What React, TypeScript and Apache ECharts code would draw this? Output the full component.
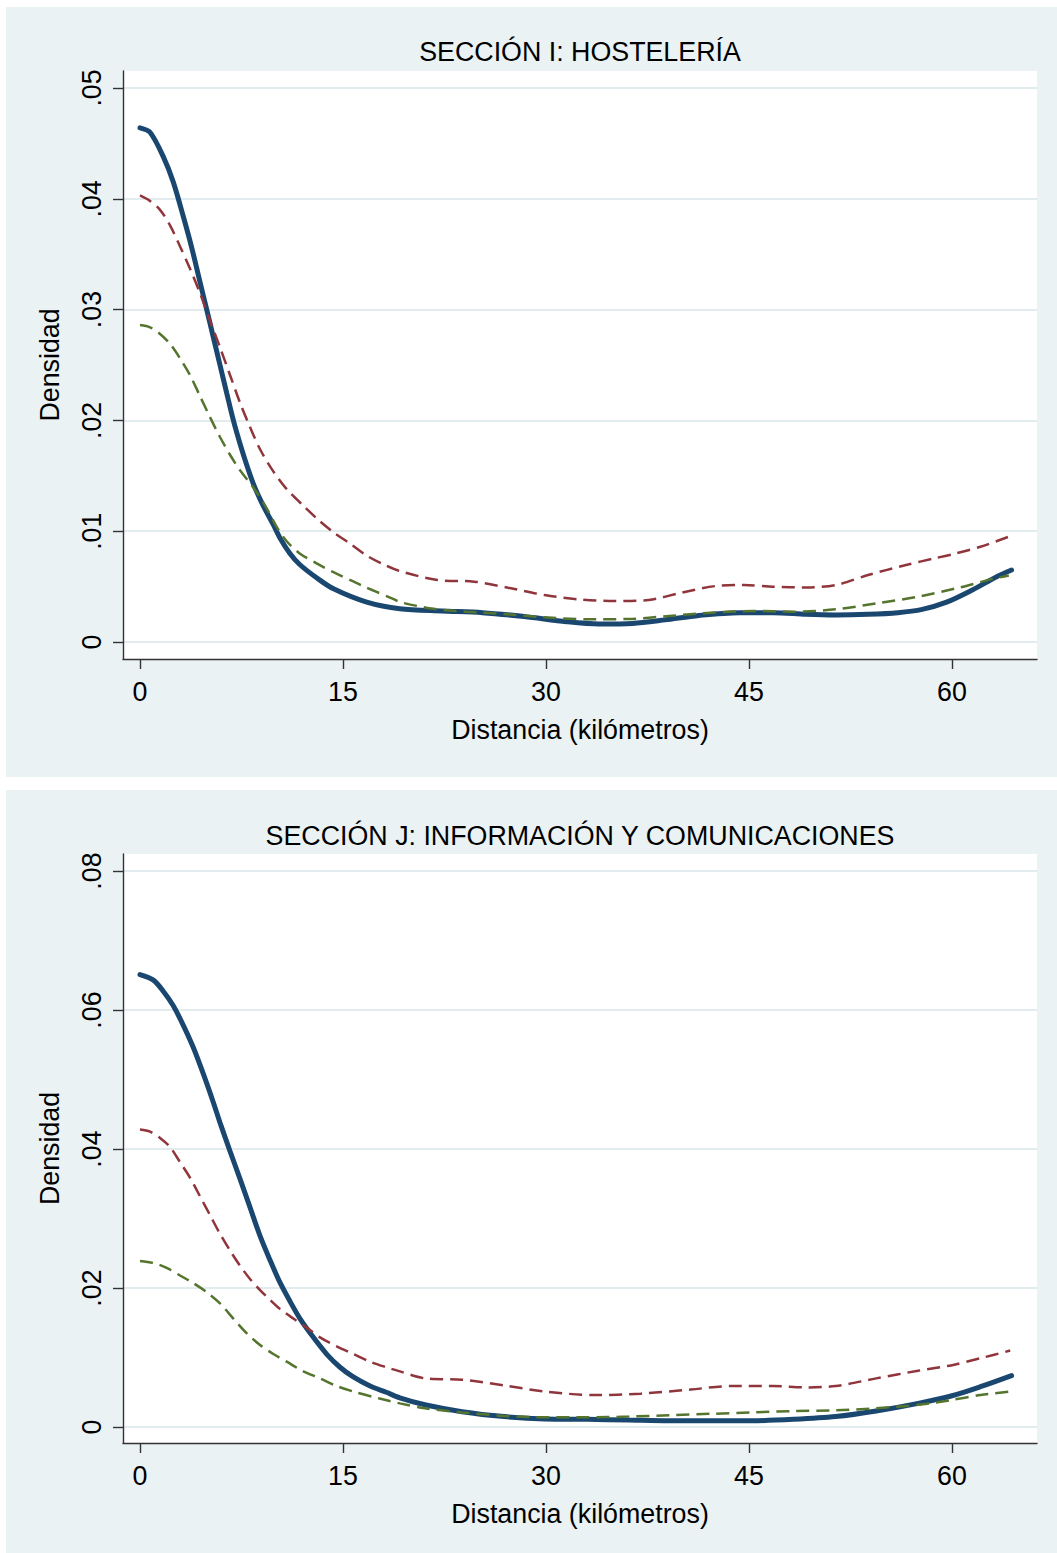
import React, { useEffect, useRef } from "react";
import * as echarts from "echarts";

// ---------- data ----------
const panelTitles = ["SECCIÓN I: HOSTELERÍA", "SECCIÓN J: INFORMACIÓN Y COMUNICACIONES"];
const xAxisTitle = "Distancia (kilómetros)";
const yAxisTitle = "Densidad";
const xTicks = [0, 15, 30, 45, 60];
const yTicksI = [0, 0.01, 0.02, 0.03, 0.04, 0.05];
const yTicksJ = [0, 0.02, 0.04, 0.06, 0.08];

// Panel I (Hostelería)
const iSolidD = [0, 0.74, 1.72, 2.46, 3.2, 3.82, 4.43, 4.93, 5.42, 5.91, 6.4, 6.9, 7.39, 7.88, 8.37, 8.87, 9.36, 9.85, 10.34, 11.08, 11.8, 13.05, 14.3, 16.75, 19.2, 22.3, 25.3, 28.4, 31.5, 33.9, 36.4, 38.8, 41.3, 44.3, 46.8, 49.2, 51.4, 53.8, 56.0, 57.8, 59.6, 61.5, 63.3, 64.4];
const iSolidV = [0.0464, 0.046, 0.0438, 0.0415, 0.0384, 0.0356, 0.0325, 0.03, 0.0275, 0.025, 0.0225, 0.02, 0.0179, 0.016, 0.0143, 0.0129, 0.0117, 0.0106, 0.0094, 0.008, 0.007, 0.0058, 0.0048, 0.0036, 0.003, 0.0028, 0.00265, 0.0023, 0.00184, 0.00163, 0.00168, 0.002, 0.0024, 0.00265, 0.00265, 0.0025, 0.00244, 0.0025, 0.00265, 0.00295, 0.0036, 0.0047, 0.0059, 0.0065];

const iRedD = [0, 0.74, 1.48, 2.22, 2.96, 3.69, 4.43, 5.17, 5.91, 6.65, 7.39, 8.13, 8.87, 9.85, 10.84, 12.07, 13.2, 14.3, 15.5, 16.75, 18.0, 19.2, 21.97, 24.7, 27.2, 29.9, 32.4, 35.1, 37.6, 40.0, 42.5, 44.6, 46.8, 49.2, 51.4, 53.8, 56.6, 58.7, 60.3, 62.1, 64.4];
const iRedV = [0.0403, 0.0398, 0.039, 0.0376, 0.0357, 0.0337, 0.0315, 0.029, 0.0266, 0.0241, 0.0216, 0.0194, 0.0174, 0.0154, 0.0138, 0.0123, 0.011, 0.0099, 0.0089, 0.0078, 0.007, 0.0064, 0.0056, 0.00545, 0.0049, 0.00424, 0.00385, 0.0037, 0.0038, 0.00445, 0.00505, 0.00514, 0.005, 0.00493, 0.00514, 0.00605, 0.00695, 0.00755, 0.008, 0.0086, 0.0096];

const iGreenD = [0, 0.74, 1.48, 2.22, 2.96, 3.69, 4.43, 5.17, 5.91, 6.65, 7.39, 8.4, 9.3, 10.1, 10.84, 11.8, 13.05, 14.3, 15.8, 16.75, 18.7, 19.21, 21.7, 24.1, 26.9, 29.9, 33.0, 36.1, 39.1, 42.2, 45.3, 48.3, 51.4, 54.4, 57.5, 60.6, 63.0, 64.2];
const iGreenV = [0.0286, 0.0284, 0.0278, 0.0269, 0.0256, 0.0241, 0.0222, 0.0203, 0.0185, 0.0169, 0.0155, 0.0139, 0.0122, 0.0104, 0.0091, 0.008, 0.0071, 0.0063, 0.00545, 0.0049, 0.0039, 0.0036, 0.003, 0.00274, 0.00253, 0.00223, 0.00205, 0.00208, 0.00235, 0.00265, 0.0028, 0.00274, 0.00295, 0.00349, 0.00409, 0.00493, 0.0057, 0.006];

// Panel J (Información y comunicaciones)
const jSolidD = [0, 0.99, 1.72, 2.46, 3.2, 3.94, 4.68, 5.42, 5.91, 6.65, 7.39, 8.13, 8.87, 9.61, 10.34, 11.08, 11.82, 12.81, 13.79, 14.78, 15.76, 17.0, 18.2, 19.2, 21.05, 23.8, 26.9, 29.9, 33.0, 36.1, 39.1, 42.2, 45.3, 48.3, 51.4, 54.4, 57.5, 60.0, 62.1, 64.4];
const jSolidV = [0.0651, 0.0643, 0.0627, 0.0606, 0.0578, 0.0546, 0.0508, 0.0467, 0.0438, 0.0397, 0.0357, 0.0316, 0.0275, 0.024, 0.0208, 0.0181, 0.0156, 0.0129, 0.0105, 0.0086, 0.0072, 0.0059, 0.005, 0.0042, 0.0032, 0.0022, 0.0015, 0.00115, 0.0011, 0.001, 0.0009, 0.0009, 0.0009, 0.0011, 0.0015, 0.0023, 0.0034, 0.0045, 0.0058, 0.0074];

const jRedD = [0, 0.74, 1.48, 2.22, 2.96, 3.69, 4.43, 5.17, 5.91, 6.65, 7.39, 8.13, 8.87, 9.61, 10.34, 11.33, 12.32, 13.3, 14.53, 15.76, 17.0, 18.2, 19.2, 21.05, 23.8, 26.9, 29.9, 33.6, 37.0, 40.7, 43.7, 46.8, 49.2, 51.4, 54.4, 57.5, 60.0, 62.1, 64.3];
const jRedV = [0.0428, 0.0425, 0.0416, 0.0403, 0.0381, 0.0359, 0.0332, 0.0305, 0.0278, 0.0254, 0.0232, 0.0213, 0.0197, 0.0183, 0.017, 0.0156, 0.0143, 0.0129, 0.0116, 0.0105, 0.0094, 0.0086, 0.008, 0.007, 0.0068, 0.006, 0.0051, 0.0046, 0.0048, 0.0054, 0.0059, 0.0059, 0.0057, 0.0059, 0.007, 0.0081, 0.0089, 0.0099, 0.011];

const jGreenD = [0, 0.99, 1.97, 2.96, 3.94, 4.93, 5.91, 6.9, 7.88, 8.87, 9.85, 10.84, 12.07, 13.3, 14.53, 15.76, 17.7, 19.2, 21.05, 23.8, 26.9, 29.9, 33.0, 36.1, 39.1, 42.2, 45.3, 48.3, 51.4, 54.4, 57.5, 60.0, 62.1, 64.2];
const jGreenV = [0.0239, 0.0236, 0.0229, 0.0218, 0.0207, 0.0194, 0.0178, 0.0156, 0.0135, 0.0118, 0.0105, 0.0094, 0.008, 0.007, 0.0059, 0.0051, 0.0041, 0.0034, 0.0027, 0.0021, 0.0016, 0.0014, 0.0014, 0.0015, 0.0017, 0.0019, 0.0021, 0.0023, 0.0024, 0.0027, 0.0032, 0.0039, 0.0046, 0.0051];

// ---------- styling ----------
const FONT = '"Liberation Sans", Arial, Helvetica, sans-serif';
const FS = 26.8;
const PANEL_BG = "#EAF2F3";
const NAVY = "#1a476f";
const MAROON = "#90353b";
const FOREST = "#55752f";
const AXIS = "#333333";
const GRID = "#e2ecee";

const fmtY = (v: number) => (Math.abs(v) < 1e-9 ? "0" : v.toFixed(2).replace(/^0/, ""));
const pairs = (d: number[], v: number[]) => d.map((x, i) => [x, v[i]]);

export default function App() {
  const ref = useRef<HTMLDivElement>(null);

  useEffect(() => {
    if (!ref.current) return;
    const chart = echarts.init(ref.current, undefined, { renderer: "svg" });

    const grids = [
      { left: 123, top: 71, width: 914, height: 588 },
      { left: 123, top: 854, width: 914, height: 589 },
    ];
    const yRanges = [
      { min: -0.00153, max: 0.05153, ticks: yTicksI },
      { min: -0.0023, max: 0.08245, ticks: yTicksJ },
    ];

    const xAxes = grids.map((_, i) => ({
      type: "value",
      gridIndex: i,
      min: -1.256,
      max: 66.28,
      axisLine: { show: true, onZero: false, lineStyle: { color: AXIS, width: 1.4 } },
      axisTick: { show: true, length: 10, customValues: xTicks, lineStyle: { color: AXIS, width: 1.4 } },
      axisLabel: { customValues: xTicks, margin: 19, fontSize: FS, color: "#000", fontFamily: FONT },
      splitLine: { show: false },
      name: xAxisTitle,
      nameLocation: "middle",
      nameGap: 57,
      nameTextStyle: { fontSize: FS, color: "#000", fontFamily: FONT },
    }));

    const yAxes = grids.map((_, i) => ({
      type: "value",
      gridIndex: i,
      min: yRanges[i].min,
      max: yRanges[i].max,
      axisLine: { show: true, onZero: false, lineStyle: { color: AXIS, width: 1.4 } },
      axisTick: { show: true, length: 10, customValues: yRanges[i].ticks, lineStyle: { color: AXIS, width: 1.4 } },
      axisLabel: {
        customValues: yRanges[i].ticks,
        rotate: 90,
        margin: 18,
        fontSize: FS,
        color: "#000",
        fontFamily: FONT,
        formatter: (v: number) => fmtY(v),
      },
      splitLine: { show: true, lineStyle: { color: GRID, width: 2 } },
      name: yAxisTitle,
      nameLocation: "middle",
      nameGap: 60,
      nameRotate: 90,
      nameTextStyle: { fontSize: FS, color: "#000", fontFamily: FONT },
    }));

    const mk = (name: string, d: number[], v: number[], gi: number, color: string, width: number, dashed: boolean) => ({
      type: "line",
      name,
      xAxisIndex: gi,
      yAxisIndex: gi,
      data: pairs(d, v),
      symbol: "none",
      showSymbol: false,
      smooth: 0.3,
      clip: false,
      lineStyle: { color, width, type: dashed ? [13, 7] : "solid", cap: dashed ? "butt" : "round" },
    });

    chart.setOption({
      animation: false,
      backgroundColor: PANEL_BG,
      graphic: [
        { type: "rect", silent: true, shape: { x: 0, y: 0, width: 1057, height: 7 }, style: { fill: "#fff" } },
        { type: "rect", silent: true, shape: { x: 0, y: 0, width: 6, height: 1553 }, style: { fill: "#fff" } },
        { type: "rect", silent: true, shape: { x: 0, y: 777, width: 1057, height: 13 }, style: { fill: "#fff" } },
        {
          type: "text",
          x: 580,
          y: 52,
          style: { text: panelTitles[0], fill: "#000", font: `${FS}px ${FONT}`, align: "center", verticalAlign: "middle", textAlign: "center", textVerticalAlign: "middle" },
        },
        {
          type: "text",
          x: 580,
          y: 836,
          style: { text: panelTitles[1], fill: "#000", font: `${FS}px ${FONT}`, align: "center", verticalAlign: "middle", textAlign: "center", textVerticalAlign: "middle" },
        },
      ],
      grid: grids.map((g) => ({ ...g, show: true, backgroundColor: "#ffffff", borderWidth: 0, containLabel: false })),
      xAxis: xAxes,
      yAxis: yAxes,
      series: [
        mk("Sección I (a)", iSolidD, iSolidV, 0, NAVY, 5, false),
        mk("Sección I (b)", iRedD, iRedV, 0, MAROON, 2.5, true),
        mk("Sección I (c)", iGreenD, iGreenV, 0, FOREST, 2.5, true),
        mk("Sección J (a)", jSolidD, jSolidV, 1, NAVY, 5, false),
        mk("Sección J (b)", jRedD, jRedV, 1, MAROON, 2.5, true),
        mk("Sección J (c)", jGreenD, jGreenV, 1, FOREST, 2.5, true),
      ],
    });

    return () => chart.dispose();
  }, []);

  return <div ref={ref} style={{ position: "absolute", left: 0, top: 0, width: 1057, height: 1553 }} />;
}
